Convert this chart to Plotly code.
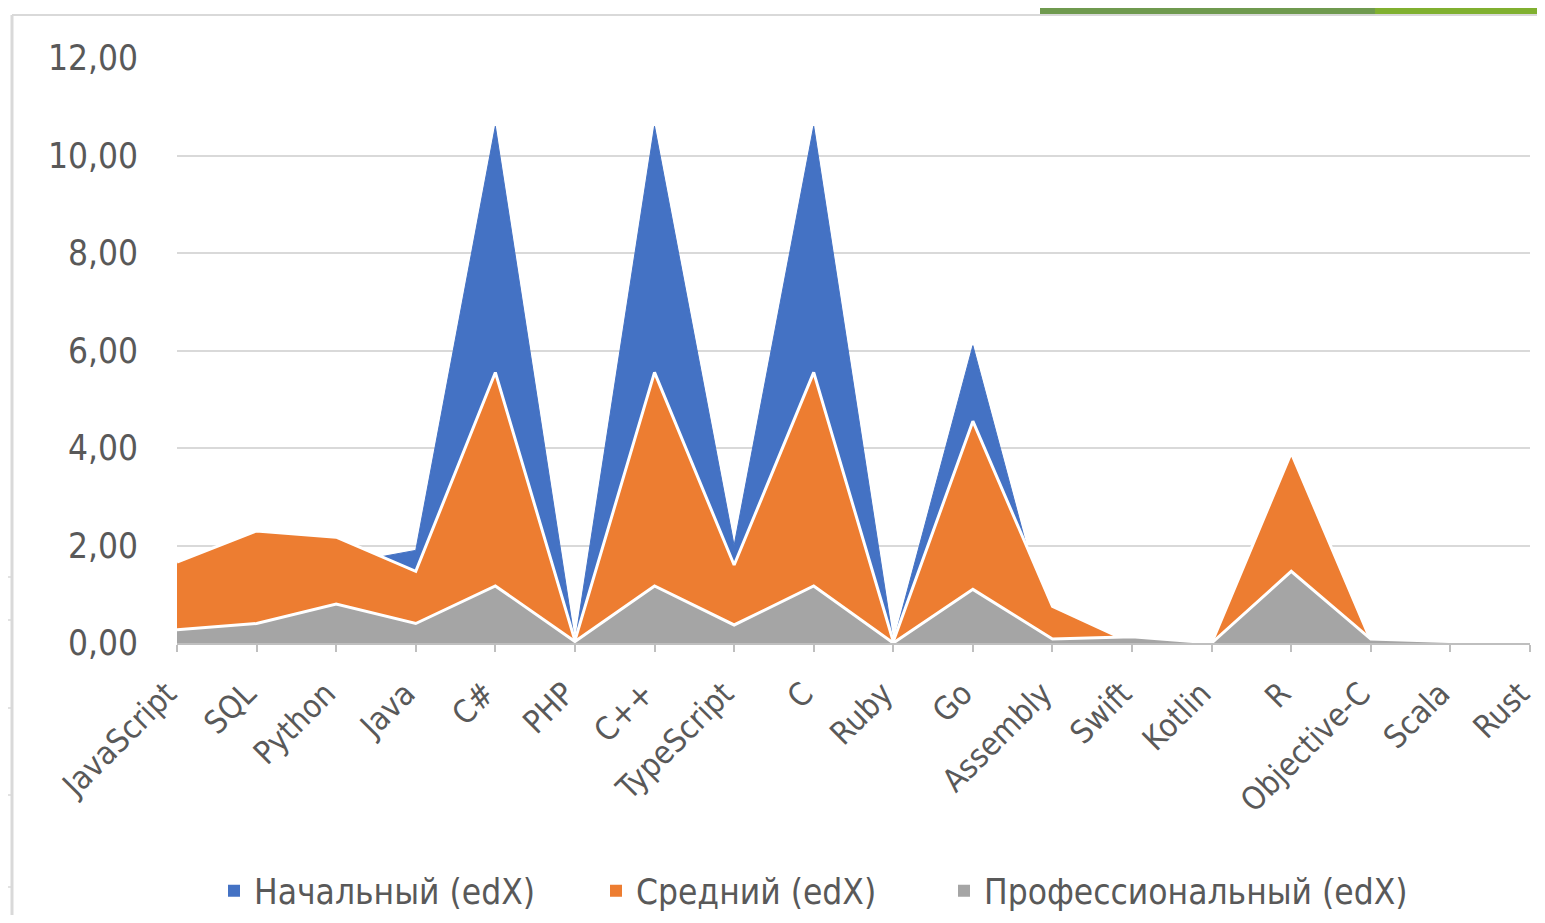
import plotly.graph_objects as go

categories = ["JavaScript", "SQL", "Python", "Java", "C#", "PHP", "C++", "TypeScript", "C",
              "Ruby", "Go", "Assembly", "Swift", "Kotlin", "R", "Objective-C", "Scala", "Rust"]
beginner = [1.5, 1.8, 1.6, 1.9, 10.6, 0.0, 10.6, 2.0, 10.6, 0.0, 6.1, 0.0, 0.0, 0.0, 0.0, 0.0, 0.0, 0.0]
intermediate = [1.66, 2.3, 2.17, 1.47, 5.55, 0.05, 5.55, 1.6, 5.55, 0.03, 4.55, 0.75, 0.0, 0.0, 3.9, 0.05, 0.0, 0.0]
professional = [0.27, 0.4, 0.8, 0.4, 1.17, 0.03, 1.17, 0.37, 1.17, 0.0, 1.1, 0.08, 0.13, 0.0, 1.47, 0.08, 0.03, 0.0]
series_names = ["Начальный (edX)", "Средний (edX)", "Профессиональный (edX)"]
y_ticks = [0, 2, 4, 6, 8, 10, 12]

BLUE = "#4472C4"
ORANGE = "#ED7D31"
GRAY = "#A5A5A5"
FONT = "DejaVu Sans Condensed, DejaVu Sans"
TXT = "#595959"

# page body has an 8px margin; plot area on screen: x 177..1530, y 58..643
W, H = 1529, 907
ML, MT = 169, 50
PW, PH = 1353, 585
MR = W - ML - PW
MB = H - MT - PH


def px(X):
    return (X - 177) / PW


def py(Y):
    return (643 - Y) / PH


fig = go.Figure()
xs = list(range(len(categories)))

fig.add_trace(go.Scatter(x=xs, y=beginner, mode="lines", fill="tozeroy",
                         fillcolor=BLUE, line=dict(color=BLUE, width=1),
                         showlegend=False, hoverinfo="skip"))
fig.add_trace(go.Scatter(x=xs, y=intermediate, mode="lines", fill="tozeroy",
                         fillcolor=ORANGE, line=dict(color="white", width=3),
                         showlegend=False, hoverinfo="skip"))
fig.add_trace(go.Scatter(x=xs, y=professional, mode="lines", fill="tozeroy",
                         fillcolor=GRAY, line=dict(color="white", width=3),
                         showlegend=False, hoverinfo="skip"))

legend_keys = ["legend", "legend2", "legend3"]
legend_x = [214, 596, 944]
for name, col, key in zip(series_names, [BLUE, ORANGE, GRAY], legend_keys):
    fig.add_trace(go.Scatter(x=[None], y=[None], mode="markers", name=name, legend=key,
                             marker=dict(symbol="square", size=12, color=col)))

legend_common = dict(orientation="h", xanchor="left", yanchor="middle", y=py(891),
                     font=dict(size=35, color=TXT, family=FONT), itemwidth=30,
                     bgcolor="rgba(0,0,0,0)", borderwidth=0)

fig.update_layout(
    width=W, height=H,
    margin=dict(l=ML, r=MR, t=MT, b=MB, pad=0, autoexpand=False),
    paper_bgcolor="white", plot_bgcolor="white",
    separators=", ",
    font=dict(family=FONT, color=TXT),
    xaxis=dict(
        range=[0, len(categories) - 1],
        tickmode="array", tickvals=xs, ticktext=categories,
        tickangle=-45, tickfont=dict(size=32, color=TXT, family=FONT),
        showgrid=False, showline=True, linecolor="#bfbfbf", linewidth=2,
        ticks="outside", ticklen=7, tickcolor="#bfbfbf", tickwidth=1.5,
        zeroline=False, ticklabelstandoff=10, ticklabelshift=-10,
        ticklabeloverflow="allow",
    ),
    yaxis=dict(
        range=[0, 12], tickvals=y_ticks, tickformat=".2f",
        tickfont=dict(size=35, color=TXT, family=FONT),
        showgrid=True, gridcolor="#d9d9d9", gridwidth=2,
        zeroline=False, showline=False, ticklabelstandoff=38,
    ),
    legend=dict(x=px(legend_x[0]), **legend_common),
    legend2=dict(x=px(legend_x[1]), **legend_common),
    legend3=dict(x=px(legend_x[2]), **legend_common),
)

# decorative slide elements (frame and corner accent)
fig.add_shape(type="rect", xref="paper", yref="paper",
              x0=px(1040), x1=px(1560), y0=py(0), y1=py(14),
              fillcolor="#6f9a4f", line=dict(width=0), layer="above")
fig.add_shape(type="rect", xref="paper", yref="paper",
              x0=px(1375), x1=px(1560), y0=py(0), y1=py(14),
              fillcolor="#80b030", line=dict(width=0), layer="above")
fig.add_shape(type="line", xref="paper", yref="paper",
              x0=px(12), x1=px(1560), y0=py(15), y1=py(15),
              line=dict(color="#d9d9d9", width=2))
fig.add_shape(type="line", xref="paper", yref="paper",
              x0=px(12), x1=px(12), y0=py(15), y1=py(930),
              line=dict(color="#d9d9d9", width=3))
for yy in [577, 620, 708, 795, 887]:
    fig.add_shape(type="line", xref="paper", yref="paper",
                  x0=px(0), x1=px(11), y0=py(yy), y1=py(yy),
                  line=dict(color="#d9d9d9", width=1.5))

fig.write_html("out.html")
